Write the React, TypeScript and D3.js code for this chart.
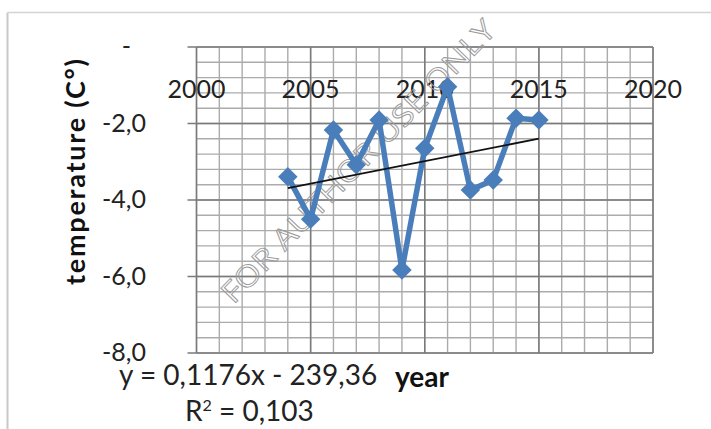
import React from "react";
import * as d3 from "d3";

const years = [2004, 2005, 2006, 2007, 2008, 2009, 2010, 2011, 2012, 2013, 2014, 2015];
const temps = [-3.39, -4.5, -2.17, -3.08, -1.91, -5.83, -2.65, -1.04, -3.74, -3.48, -1.86, -1.91];
const xTicks = [2000, 2005, 2010, 2015, 2020];
const yTicks = [0, -2, -4, -6, -8];
const trendSlope = 0.1176;
const trendIntercept = -239.36;
const equationText = "y = 0,1176x - 239,36";
const r2Value = "0,103";
const xTitle = "year";
const yTitle = "temperature (C°)";
const watermark = "FOR AUTHOR USE ONLY";

const W = 711;
const H = 429;
const FONT = "Lato, 'Open Sans', sans-serif";
const BLUE = "#4a7ebb";

export default function App() {
  const x = d3.scaleLinear().domain([2000, 2020]).range([196.5, 653]);
  const y = d3.scaleLinear().domain([-8, 0]).range([353, 47]);
  const minorX = d3.range(2000, 2020.5, 1);
  const minorY = d3.range(-8, 0.01, 0.4);
  const line = d3
    .line<number>()
    .x((_, i) => x(years[i]))
    .y((d) => y(d));
  const diamond = d3.symbol().type(d3.symbolSquare).size(190);
  const fmt = (v: number) => (v === 0 ? "-" : d3.format(".1f")(v).replace(".", ",").replace("−", "-"));
  const x0 = years[0];
  const x1 = years[years.length - 1];

  return (
    <svg
      width={W}
      height={H}
      style={{ position: "absolute", left: 0, top: 0, background: "#fff" }}
      fontFamily={FONT}
    >
      {/* chart frame */}
      <line x1={7.5} x2={7.5} y1={12.5} y2={H} stroke="#c8c8c8" strokeWidth={2} />
      <line x1={7.5} x2={W} y1={12.5} y2={12.5} stroke="#d4d4d4" strokeWidth={1.5} />

      {/* minor grid */}
      {minorX.map((v) => (
        <line key={"mx" + v} x1={x(v)} x2={x(v)} y1={y(0)} y2={y(-8)} stroke="#ababab" strokeWidth={1.4} />
      ))}
      {minorY.map((v) => (
        <line key={"my" + v} x1={x(2000)} x2={x(2020)} y1={y(v)} y2={y(v)} stroke="#ababab" strokeWidth={1.4} />
      ))}
      {/* major grid */}
      {xTicks.map((v) => (
        <line key={"Mx" + v} x1={x(v)} x2={x(v)} y1={y(0)} y2={y(-8)} stroke="#7a7a7a" strokeWidth={1.5} />
      ))}
      {yTicks.map((v) => (
        <line key={"My" + v} x1={x(2000) - 9} x2={x(2020)} y1={y(v)} y2={y(v)} stroke="#7a7a7a" strokeWidth={1.5} />
      ))}

      {/* x tick labels */}
      {xTicks.map((v) => (
        <text key={"xt" + v} x={x(v)} y={98} textAnchor="middle" fontSize={25} fill="#222">
          {v}
        </text>
      ))}
      {/* y tick labels */}
      {yTicks.map((v) => (
        <text
          key={"yt" + v}
          x={v === 0 ? 131 : 146}
          y={y(v) + 8}
          textAnchor="end"
          fontSize={25}
          fill="#222"
        >
          {fmt(v)}
        </text>
      ))}

      {/* watermark */}
      <text
        transform={`translate(360,163) rotate(-46)`}
        textAnchor="middle"
        dominantBaseline="middle"
        fontSize={29}
        textLength={380}
        lengthAdjust="spacingAndGlyphs"
        fill="none"
        stroke="#9a9a9a"
        strokeWidth={0.9}
        fontFamily="'Open Sans', sans-serif"
      >
        {watermark}
      </text>

      {/* series */}
      <path d={line(temps) || ""} fill="none" stroke={BLUE} strokeWidth={5.5} strokeLinejoin="round" />
      {temps.map((t, i) => (
        <path
          key={"pt" + i}
          d={diamond() || ""}
          transform={`translate(${x(years[i])},${y(t)}) rotate(45)`}
          fill={BLUE}
        />
      ))}

      {/* trend line */}
      <line
        x1={x(x0)}
        x2={x(x1)}
        y1={y(trendSlope * x0 + trendIntercept)}
        y2={y(trendSlope * x1 + trendIntercept)}
        stroke="#111"
        strokeWidth={1.8}
      />

      {/* axis titles */}
      <text
        transform={`translate(85,172) rotate(-90)`}
        textAnchor="middle"
        fontSize={27}
        textLength={226}
        lengthAdjust="spacing"
        fontWeight="bold"
        fill="#111"
      >
        {yTitle}
      </text>
      <text x={395} y={387} fontSize={28} fontWeight="bold" fill="#111">
        {xTitle}
      </text>

      {/* trend equation */}
      <text x={119} y={385} fontSize={28} fill="#222">
        {equationText}
      </text>
      <text x={185} y={421} fontSize={28} fill="#222">
        R<tspan dy={-10} fontSize={16}>2</tspan>
        <tspan dy={10}> = {r2Value}</tspan>
      </text>
    </svg>
  );
}
